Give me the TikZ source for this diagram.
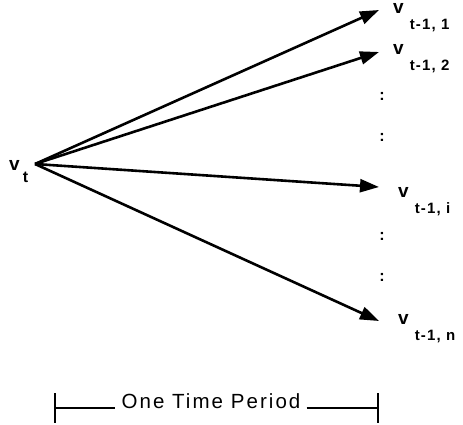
\documentclass[tikz,border=0pt]{standalone}
\usepackage{fontspec}
\setmainfont{Liberation Sans}
\newfontfamily\subfont[LetterSpace=8]{Liberation Sans}
\newfontfamily\periodfont[LetterSpace=10]{Liberation Sans}
\usetikzlibrary{arrows.meta, positioning}

\newcommand{\vsub}[1]{v\hspace{6pt}\raisebox{-16pt}{\subfont\bfseries\fontsize{15}{15}\selectfont #1}}

\begin{document}
\begin{tikzpicture}[
  x=1pt, y=-1pt,
  lab/.style={anchor=base west, inner sep=0pt, font=\bfseries\fontsize{19}{19}\selectfont},
  dots/.style={inner sep=0pt, font=\bfseries\fontsize{16}{16}\selectfont},
  arr/.style={-{Triangle[length=19pt, width=13pt]}, line width=2.6pt},
  tick/.style={line width=1.8pt}
]
  \useasboundingbox (0,0) rectangle (463,425);
  % source and targets
  \coordinate (src) at (35,164);
  \node[lab] (vt) at (9,170) {v\hspace{3pt}\raisebox{-13pt}{\subfont\bfseries\fontsize{16}{16}\selectfont t}};
  \node[lab] (v1) at (393,14) {\vsub{t-1, 1}};
  \node[lab] (v2) at (393,55) {\vsub{t-1, 2}};
  \node[lab] (vi) at (398,197) {\vsub{t-1, i}};
  \node[lab] (vn) at (398,324) {\vsub{t-1, n}};
  \coordinate (e1) at (379,10);
  \coordinate (e2) at (379,52);
  \coordinate (ei) at (379,187);
  \coordinate (en) at (379,321);
  \draw[arr] (src) -- (e1);
  \draw[arr] (src) -- (e2);
  \draw[arr] (src) -- (ei);
  \draw[arr] (src) -- (en);
  % vertical ellipses
  \node[dots] (d1) at (382,96) {:};
  \node[dots] (d2) at (382,137) {:};
  \node[dots] (d3) at (382,236) {:};
  \node[dots] (d4) at (382,277) {:};
  % time period bracket
  \node[anchor=base, inner xsep=6pt, inner ysep=0pt, font=\periodfont\fontsize{20.5}{20.5}\selectfont] (period) at (211,408) {One Time Period};
  \coordinate (lt) at (55,408);
  \coordinate (rt) at (378,408);
  \draw[tick] ([yshift=15pt]lt) -- ([yshift=-15pt]lt);
  \draw[tick] ([yshift=15pt]rt) -- ([yshift=-15pt]rt);
  \draw[tick] (lt) -- (period.base west);
  \draw[tick] (period.base east) -- (rt);
\end{tikzpicture}
\end{document}
